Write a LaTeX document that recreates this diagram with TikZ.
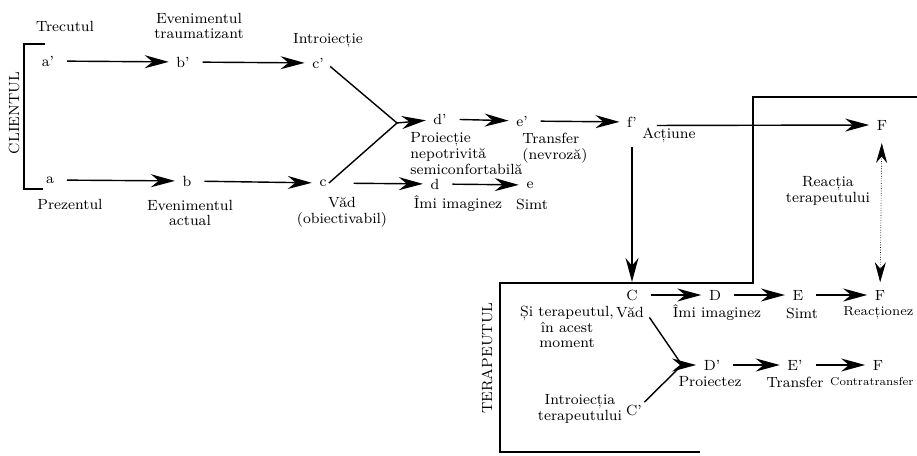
\documentclass[tikz,border=0pt]{standalone}
\usepackage{fontspec}
\usetikzlibrary{arrows.meta}
\tikzset{
  lbl/.style={font=\fontsize{8.4}{9}\selectfont,inner sep=1pt},
  txt/.style={lbl,align=center},
  txtl/.style={lbl,align=left,anchor=north west},
  pijl/.style={-{Stealth[length=4.8mm,width=2.6mm]},shorten <=6pt,shorten >=3pt},
  ramura/.style={shorten <=3pt},
}
\begin{document}
\begin{tikzpicture}[thick,x=0.02cm,y=-0.02cm]
\useasboundingbox (0,0) rectangle (917,456);
% clientul
\node[lbl](ap)at(48,61){a’};
\node[lbl](bp)at(183,62){b’};
\node[lbl](cp)at(318,63){c’};
\node[lbl](dp)at(440,119){d’};
\node[lbl](ep)at(522,121){e’};
\node[lbl](fp)at(632,122){f’};
\node[lbl](Fu)at(882,125){F};
\node[lbl](a)at(50,180){a};
\node[lbl](b)at(187,181){b};
\node[lbl](c)at(323,183){c};
\node[lbl](d)at(435,184){d};
\node[lbl](e)at(530,185){e};
\coordinate(jd)at(397,123);
\node[txt](trec)at(65,26){Trecutul};
\node[txt](evtr)at(199,26){Evenimentul\\traumatizant};
\node[txt](intr)at(328,41){Introiecție};
\node[txt](prez)at(70,204){Prezentul};
\node[txt](evac)at(190,213){Evenimentul\\actual};
\node[txt](vadc)at(342,212){Văd\\(obiectivabil)};
\node[txt](imic)at(458,204){Îmi imaginez};
\node[txt](simc)at(532,204){Simt};
\node[txtl](proi)at(408,130){Proiecție\\nepotrivită\\semiconfortabilă};
\node[txtl](trnf)at(520,131){Transfer\\(nevroză)};
\node[lbl,anchor=west](actn)at(640,135){Acțiune};
\node[txt](reac)at(828,191){Reacția\\terapeutului};
\node[lbl,rotate=90](clnt)at(14,113){CLIENTUL};
\draw(45,44)--(24,44)--(24,189)--(43,189);
\draw[pijl](ap)--(bp);
\draw[pijl](bp)--(cp);
\draw[pijl](a)--(b);
\draw[pijl](b)--(c);
\draw[ramura](cp.east)--(jd)--(c.east);
\draw[pijl,shorten <=0pt](jd)--(dp);
\draw[pijl](dp)--(ep);
\draw[pijl](ep)--(fp);
\draw[pijl,shorten <=14pt](c)--(d);
\draw[pijl](d)--(e);
\draw[pijl,shorten <=10pt]([yshift=-2pt]fp.east)--(Fu.west);
% terapeutul
\draw(920,97)--(753,97)--(753,283)--(500,283)--(500,452)--(700,452);
\node[lbl](C)at(632,295){C};
\node[lbl](D)at(715,295){D};
\node[lbl](E)at(798,295){E};
\node[lbl](Fm)at(880,295){F};
\node[lbl](Dp)at(712,365){D’};
\node[lbl](Ep)at(795,365){E’};
\node[lbl](Fl)at(878,365){F};
\node[lbl](Cp)at(634,410){C’};
\coordinate(jD)at(682,365);
\node[txt](vadT)at(630,313){Văd};
\node[txt](imiT)at(717,313){Îmi imaginez};
\node[txt](simT)at(802,313){Simt};
\node[lbl,anchor=east,font=\fontsize{7.4}{9}\selectfont](reaT)at(916,313){Reacționez};
\node[txt](prjT)at(710,382){Proiectez};
\node[txt](trnT)at(795,382){Transfer};
\node[lbl,anchor=east,font=\fontsize{6.5}{9}\selectfont](ctrT)at(916,382){Contratransfer};
\node[txt](moment)at(567,327){Și terapeutul,\\în acest\\moment};
\node[txt](intT)at(580,409){Introiecția\\terapeutului};
\node[lbl,rotate=90](trpt)at(487,358){TERAPEUTUL};
\draw[pijl,shorten <=10pt](fp)--(C);
\draw[thin,densely dotted,{Stealth[length=4mm,width=2.2mm]}-{Stealth[length=4mm,width=2.2mm]},
  shorten <=6pt,shorten >=3pt](Fu)--(Fm);
\draw[pijl](C)--(D);
\draw[pijl](D)--(E);
\draw[pijl](E)--(Fm);
\draw[ramura](vadT.east)--(jD)--(Cp.north east);
\draw[pijl,shorten <=0pt](jD)--(Dp);
\draw[pijl](Dp)--(Ep);
\draw[pijl](Ep)--(Fl);
\end{tikzpicture}
\end{document}
